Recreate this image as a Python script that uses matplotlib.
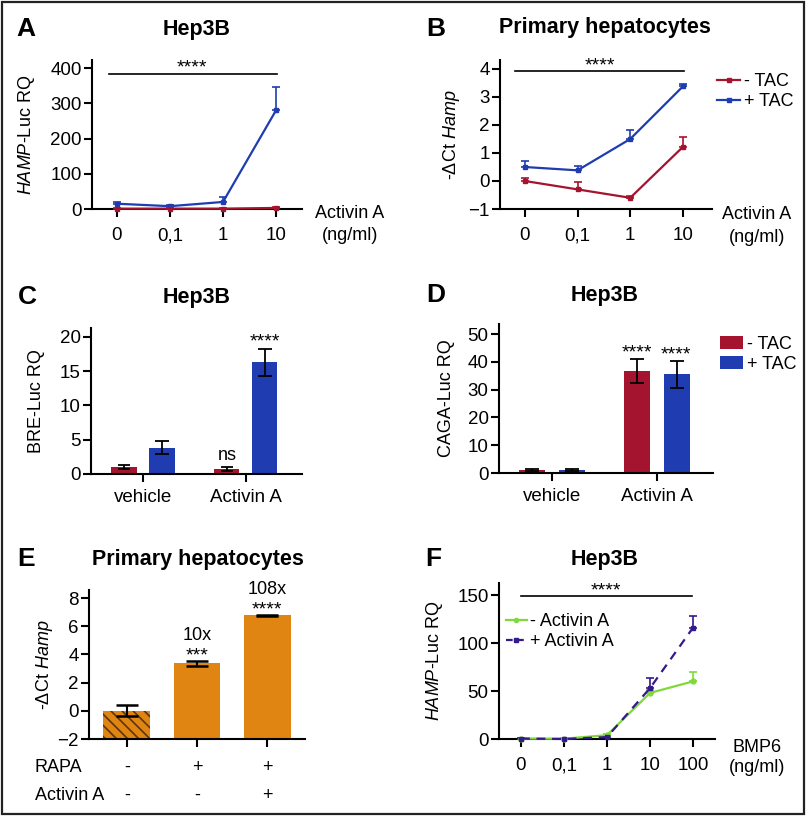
import numpy as np
import matplotlib
matplotlib.use('Agg')
import matplotlib.pyplot as plt
from matplotlib.patches import Rectangle, Patch
from matplotlib.lines import Line2D

plt.rcParams['font.family'] = ['Liberation Sans', 'DejaVu Sans']
plt.rcParams['mathtext.fontset'] = 'custom'
plt.rcParams['mathtext.rm'] = 'Liberation Sans'
plt.rcParams['mathtext.it'] = 'Liberation Sans:italic'
plt.rcParams['axes.linewidth'] = 1.5
plt.rcParams['xtick.major.width'] = 1.5
plt.rcParams['ytick.major.width'] = 1.5
plt.rcParams['xtick.major.size'] = 5.5
plt.rcParams['ytick.major.size'] = 5.5
plt.rcParams['hatch.linewidth'] = 1.2

# ---------- colores ----------
RED = '#a5142e'
BLUE = '#1f3db0'
GREEN = '#7fd93b'
PURPLE = '#36198c'
ORANGE = '#e08512'

# ---------- datos A ----------
dose_a = ['0', '0,1', '1', '10']
a_minus = [1, 1, 1, 3]
a_minus_err = [1, 1, 1, 2]
a_plus = [15, 8, 20, 280]
a_plus_err = [4, 3, 15, 65]

# ---------- datos B ----------
dose_b = ['0', '0,1', '1', '10']
b_minus = [0.0, -0.3, -0.6, 1.22]
b_minus_err = [0.1, 0.28, 0.08, 0.35]
b_plus = [0.5, 0.38, 1.5, 3.38]
b_plus_err = [0.2, 0.17, 0.33, 0.1]

# ---------- datos C ----------
groups = ['vehicle', 'Activin A']
c_minus = [1.0, 0.7]
c_minus_err = [0.33, 0.27]
c_plus = [3.8, 16.3]
c_plus_err = [0.95, 2.0]

# ---------- datos D ----------
d_minus = [1.0, 36.7]
d_minus_err = [0.4, 4.4]
d_plus = [1.0, 35.5]
d_plus_err = [0.4, 4.8]

# ---------- datos E ----------
e_vals = [0.0, 3.38, 6.78]
e_err = [0.4, 0.17, 0.05]
e_rapa = ['-', '+', '+']
e_activin = ['-', '-', '+']
e_fold = ['', '10x', '108x']
e_stars = ['', '***', '****']

# ---------- datos F ----------
dose_f = ['0', '0,1', '1', '10', '100']
f_minus = [0.5, 0.3, 4, 48, 60]
f_minus_err = [0.5, 0.5, 1, 3, 10]
f_plus = [0.5, 0.0, 2, 53, 116]
f_plus_err = [0.5, 0.5, 1, 11, 12]

TICK = 13.5
LAB = 13
TIT = 15.5
STAR = 14

W, H = 807, 817
fig = plt.figure(figsize=(W / 100, H / 100), dpi=100)


def box(l, t, r, b):
    return [l / W, 1 - b / H, (r - l) / W, (b - t) / H]


def ftext(x, y, s, **kw):
    fig.text(x / W, 1 - y / H, s, **kw)


def style(ax):
    ax.spines['top'].set_visible(False)
    ax.spines['right'].set_visible(False)
    ax.tick_params(labelsize=TICK, pad=2)


def ylab(ax, s, xpx):
    # xpx = borde derecho de la etiqueta en pixeles de la figura
    ax.set_ylabel(s, fontsize=LAB)
    l = ax.get_position().x0 * W
    w = ax.get_position().width * W
    ax.yaxis.set_label_coords((xpx - l) / w, 0.5)


def line_panel(ax, ys, errs, color, ls='-', marker='s'):
    x = np.arange(len(ys))
    ax.errorbar(x, ys, yerr=[np.zeros(len(errs)), errs], color=color, ls=ls,
                lw=1.6, marker=marker, ms=3.5, capsize=3, elinewidth=1.2,
                capthick=1.2, clip_on=False, zorder=3)


def leg(ax, handles, labels, x, y, hl):
    ax.legend(handles, labels, loc='center left', bbox_to_anchor=(x / W, 1 - y / H),
              bbox_transform=fig.transFigure, frameon=False, fontsize=LAB,
              handlelength=hl, handletextpad=0.2, labelspacing=0.17,
              borderpad=0, borderaxespad=0)


# ---------- A ----------
ax = fig.add_axes(box(92, 60, 302, 209))
style(ax)
line_panel(ax, a_plus, a_plus_err, BLUE)
line_panel(ax, a_minus, a_minus_err, RED)
ax.set_xlim(-0.47, 3.49)
ax.set_ylim(0, 423)
ax.set_yticks([0, 100, 200, 300, 400])
ax.set_xticks(range(len(dose_a)))
ax.set_xticklabels(dose_a)
ax.tick_params(axis='x', pad=7.5)
ylab(ax, r'$\it{HAMP}$-Luc RQ', 37)
ax.plot([-0.15, 3.02], [383, 383], 'k', lw=1.2, clip_on=False)
ftext(192, 72, '****', ha='center', va='baseline', fontsize=STAR)
ftext(350, 213, 'Activin A', ha='center', va='center', fontsize=LAB)
ftext(350, 235, '(ng/ml)', ha='center', va='center', fontsize=LAB)

# ---------- B ----------
ax = fig.add_axes(box(500, 60, 712, 209))
style(ax)
line_panel(ax, b_minus, b_minus_err, RED)
line_panel(ax, b_plus, b_plus_err, BLUE)
ax.set_xlim(-0.47, 3.55)
ax.set_ylim(-1, 4.32)
ax.set_yticks([-1, 0, 1, 2, 3, 4])
ax.set_xticks(range(len(dose_b)))
ax.set_xticklabels(dose_b)
ax.tick_params(axis='x', pad=7.5)
ylab(ax, r'-ΔCt $\it{Hamp}$', 462)
ax.plot([-0.19, 3.02], [3.93, 3.93], 'k', lw=1.2, clip_on=False)
ftext(600, 70, '****', ha='center', va='baseline', fontsize=STAR)
hb = [Line2D([], [], color=RED, lw=1.6, marker='s', ms=3),
      Line2D([], [], color=BLUE, lw=1.6, marker='s', ms=3)]
leg(ax, hb, ['- TAC', '+ TAC'], 717, 91.5, 1.3)
ftext(757, 215, 'Activin A', ha='center', va='center', fontsize=LAB)
ftext(757, 237, '(ng/ml)', ha='center', va='center', fontsize=LAB)

# ---------- C ----------
ax = fig.add_axes(box(91, 328, 302, 474))
style(ax)
xg = np.arange(len(groups))
ax.bar(xg - 0.185, c_minus, 0.25, color=RED, yerr=c_minus_err, capsize=4.5,
       error_kw=dict(elinewidth=1.3, capthick=1.3))
ax.bar(xg + 0.185, c_plus, 0.25, color=BLUE, yerr=c_plus_err, capsize=5,
       error_kw=dict(elinewidth=1.3, capthick=1.3))
ax.set_xlim(-0.505, 1.55)
ax.set_ylim(0, 21.3)
ax.set_yticks([0, 5, 10, 15, 20])
ax.set_xticks(xg)
ax.set_xticklabels(groups)
ax.tick_params(axis='x', pad=5)
ylab(ax, 'BRE-Luc RQ', 45)
ftext(227, 460, 'ns', ha='center', va='baseline', fontsize=LAB)
ftext(265, 346, '****', ha='center', va='baseline', fontsize=STAR)

# ---------- D ----------
ax = fig.add_axes(box(499, 324, 713, 473))
style(ax)
ax.bar(xg - 0.19, d_minus, 0.25, color=RED, yerr=d_minus_err, capsize=5,
       error_kw=dict(elinewidth=1.3, capthick=1.3))
ax.bar(xg + 0.19, d_plus, 0.25, color=BLUE, yerr=d_plus_err, capsize=5,
       error_kw=dict(elinewidth=1.3, capthick=1.3))
ax.set_xlim(-0.505, 1.53)
ax.set_ylim(0, 53.6)
ax.set_yticks([0, 10, 20, 30, 40, 50])
ax.set_xticks(xg)
ax.set_xticklabels(groups)
ax.tick_params(axis='x', pad=5)
ylab(ax, 'CAGA-Luc RQ', 455)
ftext(637, 357, '****', ha='center', va='baseline', fontsize=STAR)
ftext(676, 359, '****', ha='center', va='baseline', fontsize=STAR)
hd = [Patch(facecolor=RED), Patch(facecolor=BLUE)]
leg(ax, hd, ['- TAC', '+ TAC'], 720, 354.5, 1.3)

# ---------- E ----------
ax = fig.add_axes(box(89, 590, 305, 739))
style(ax)
xe = np.arange(len(e_vals))
base = -2
heights = [v - base for v in e_vals]
bars = ax.bar(xe, heights, 0.67, bottom=base, color=ORANGE, zorder=2)
bars[0].set_hatch('\\\\\\')
bars[0].set_edgecolor('#5a3510')
bars[0].set_linewidth(0)
ax.errorbar(xe, e_vals, yerr=e_err, fmt='none', ecolor='k', elinewidth=1.5,
            capsize=8, capthick=1.8, zorder=3)
ax.set_xlim(-0.54, 2.54)
ax.set_ylim(-2, 8.57)
ax.set_yticks([-2, 0, 2, 4, 6, 8])
ax.set_xticks(xe)
ax.set_xticklabels([])
ylab(ax, r'-ΔCt $\it{Hamp}$', 55)
ftext(197, 640, e_fold[1], ha='center', va='baseline', fontsize=LAB)
ftext(197, 660, e_stars[1], ha='center', va='baseline', fontsize=STAR)
ftext(267, 594, e_fold[2], ha='center', va='baseline', fontsize=LAB)
ftext(267, 614, e_stars[2], ha='center', va='baseline', fontsize=STAR)
for i in range(len(e_vals)):
    ftext(127 + 70 * i, 767, e_rapa[i], ha='center', va='center', fontsize=LAB)
    ftext(127 + 70 * i, 795, e_activin[i], ha='center', va='center', fontsize=LAB)
ftext(35, 767, 'RAPA', ha='left', va='center', fontsize=LAB)
ftext(35, 795, 'Activin A', ha='left', va='center', fontsize=LAB)

# ---------- F ----------
ax = fig.add_axes(box(499, 583, 715, 739))
style(ax)
line_panel(ax, f_minus, f_minus_err, GREEN, marker='o')
line_panel(ax, f_plus, f_plus_err, PURPLE, ls=(0, (4, 3)))
ax.set_xlim(-0.51, 4.51)
ax.set_ylim(0, 162.5)
ax.set_yticks([0, 50, 100, 150])
ax.set_xticks(range(len(dose_f)))
ax.set_xticklabels(dose_f)
ax.tick_params(axis='x', pad=7.5)
ylab(ax, r'$\it{HAMP}$-Luc RQ', 445)
ax.plot([0.0, 3.98], [149, 149], 'k', lw=1.2, clip_on=False)
ftext(606, 595, '****', ha='center', va='baseline', fontsize=STAR)
hf = [Line2D([], [], color=GREEN, lw=1.6, marker='o', ms=3),
      Line2D([], [], color=PURPLE, lw=1.6, ls=(0, (3, 2)), marker='s', ms=3)]
leg(ax, hf, ['- Activin A', '+ Activin A'], 506, 631.5, 1.15)
ftext(757, 747, 'BMP6', ha='center', va='center', fontsize=LAB)
ftext(757, 768, '(ng/ml)', ha='center', va='center', fontsize=LAB)

# ---------- titulos y letras ----------
ftext(197, 29, 'Hep3B', ha='center', va='center', fontsize=TIT, fontweight='bold')
ftext(605, 28, 'Primary hepatocytes', ha='center', va='center', fontsize=TIT, fontweight='bold')
ftext(197, 297, 'Hep3B', ha='center', va='center', fontsize=TIT, fontweight='bold')
ftext(605, 295, 'Hep3B', ha='center', va='center', fontsize=TIT, fontweight='bold')
ftext(198, 559, 'Primary hepatocytes', ha='center', va='center', fontsize=TIT, fontweight='bold')
ftext(605, 559, 'Hep3B', ha='center', va='center', fontsize=TIT, fontweight='bold')

for lab, x, y in [('A', 26, 29), ('B', 436, 29), ('C', 27, 297),
                  ('D', 436, 295), ('E', 26, 559), ('F', 433, 559)]:
    ftext(x, y, lab, ha='center', va='center', fontsize=19, fontweight='bold')

fig.patches.append(Rectangle((1.5 / W, 1 - 814 / H), 802 / W, 812.5 / H, fill=False,
                             lw=1.6, edgecolor='#222222', transform=fig.transFigure))

fig.savefig('out.png', dpi=100)
